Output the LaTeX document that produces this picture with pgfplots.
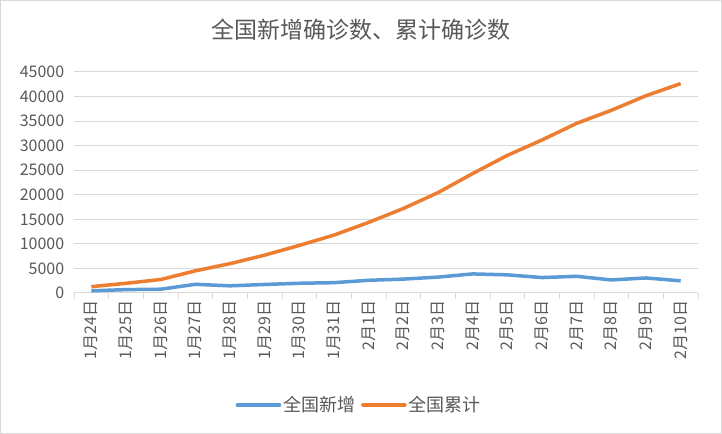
\documentclass[border=0pt]{standalone}
\usepackage{fontspec}
\setmainfont{Noto Sans CJK SC}
\usepackage{pgfplots}
\pgfplotsset{compat=1.18}
\definecolor{cblue}{HTML}{5B9BD5}
\definecolor{corange}{HTML}{ED7D31}
\definecolor{ctext}{HTML}{595959}
\definecolor{cgrid}{HTML}{D9D9D9}
\begin{document}
\begin{tikzpicture}
\useasboundingbox (0,0) rectangle (722bp,434bp);
\fill[white] (0,0) rectangle (722bp,434bp);
\draw[cgrid,line width=1bp] (0.5bp,0.5bp) rectangle (721.5bp,433.5bp);
\node[text=ctext,font=\fontsize{23bp}{26bp}\selectfont] at (361bp,404bp) {全国新增确诊数、累计确诊数};
\begin{axis}[
  at={(74bp,141bp)}, anchor=south west,
  scale only axis, width=624bp, height=221bp,
  xmin=-0.5, xmax=17.5, ymin=0, ymax=45000,
  ytick={0,5000,...,45000},
  scaled y ticks=false,
  yticklabel style={/pgf/number format/1000 sep={},text=ctext,font=\fontsize{16bp}{18bp}\selectfont,xshift=-2bp},
  /pgf/number format/assume math mode=true,
  xtick={0,...,17},
  xticklabels={1月24日,1月25日,1月26日,1月27日,1月28日,1月29日,1月30日,1月31日,2月1日,2月2日,2月3日,2月4日,2月5日,2月6日,2月7日,2月8日,2月9日,2月10日},
  xticklabel style={rotate=90,anchor=east,text=ctext,font=\fontsize{16bp}{18bp}\selectfont,yshift=0bp},
  major x tick style={draw=none},
  minor xtick={-0.5,0.5,...,17.5},
  minor tick length=6bp,
  tick align=outside,
  minor x tick style={cgrid,line width=1bp},
  major y tick style={draw=none},
  ymajorgrids, grid style={cgrid,line width=1bp},
  axis lines*=left,
  x axis line style={draw=cgrid,line width=1bp,-},
  y axis line style={draw=none},
  legend columns=2,
  legend style={at={(0.457,-0.507)},anchor=center,draw=none,fill=none,
    font=\fontsize{18bp}{20bp}\selectfont,text=ctext,
    /tikz/every even column/.append style={column sep=4bp}},
  legend image code/.code={\draw[#1,line cap=round] (0bp,0bp) -- (42bp,0bp);},
]
\addplot[cblue,line width=3.5bp,line join=round] coordinates {
(0,444) (1,688) (2,769) (3,1771) (4,1459) (5,1737) (6,1982) (7,2102) (8,2590)
(9,2829) (10,3235) (11,3887) (12,3694) (13,3143) (14,3399) (15,2656) (16,3062) (17,2478)};
\addlegendentry{全国新增}
\addplot[corange,line width=3.5bp,line join=round] coordinates {
(0,1287) (1,1975) (2,2744) (3,4515) (4,5974) (5,7711) (6,9692) (7,11791) (8,14380)
(9,17205) (10,20438) (11,24324) (12,28018) (13,31161) (14,34546) (15,37198) (16,40171) (17,42638)};
\addlegendentry{全国累计}
\end{axis}
\end{tikzpicture}
\end{document}
